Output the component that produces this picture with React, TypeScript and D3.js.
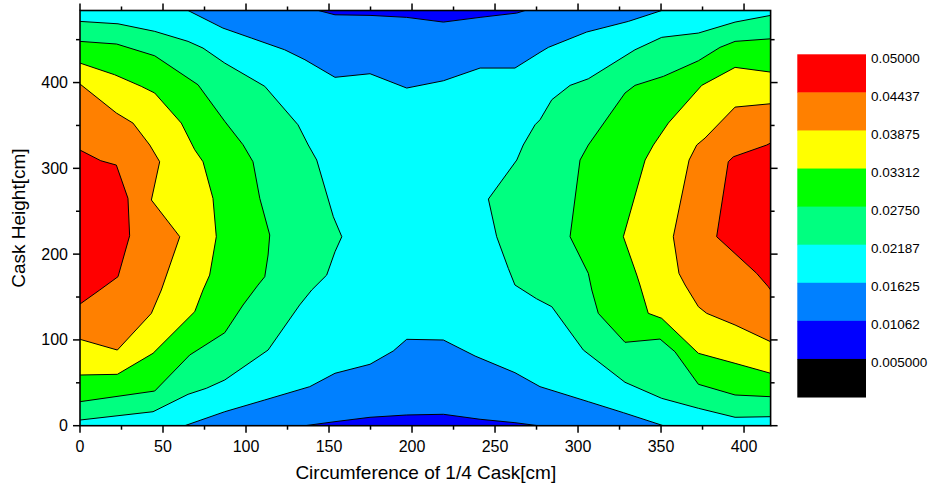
import React from 'react';
import * as d3 from 'd3';

// ---- axis domain & ticks ----
const X_MAX = 416;
const Y_MAX = 484;
const xMajorTicks = [0, 50, 100, 150, 200, 250, 300, 350, 400];
const xMinorTicks = [25, 75, 125, 175, 225, 275, 325, 375];
const yMajorTicks = [0, 100, 200, 300, 400];
const yMinorTicks = [50, 150, 250, 350, 450];

// ---- contour levels (legend) ----
const levelValues = [0.005, 0.010625, 0.01625, 0.021875, 0.0275, 0.033125, 0.03875, 0.044375, 0.05];
const levelLabels = ['0.05000', '0.04437', '0.03875', '0.03312', '0.02750', '0.02187', '0.01625', '0.01062', '0.005000'];
const levelColors = ['#000000', '#0000FF', '#0080FF', '#00FFFF', '#00FF80', '#00FF00', '#FFFF00', '#FF8000', '#FF0000'];

// ---- isolines: [circumference cm, height cm] ----
const leftIso021875 = [[0,471.3],[22.9,468.5],[45.0,459.7],[65.1,448.0],[74.1,440.2],[87.2,422.7],[111.3,395.6],[131.3,350.8],[137.5,327.2],[142.6,309.7],[152.6,243.6],[157.7,220.3],[153.6,202.8],[148.6,175.6],[139.6,158.2],[132.3,140.7],[113.3,88.2],[87.2,53.3],[76.1,43.6],[65.1,36.6],[44.0,16.3],[0,6.6]];
const leftIso0275 = [[0,448.0],[22.1,444.9],[45.0,431.2],[71.1,397.4],[87.2,354.8],[98.2,327.5],[104.2,307.7],[108.3,265.0],[114.3,222.3],[113.3,199.0],[111.3,173.7],[107.2,163.9],[98.2,140.7],[87.2,108.4],[66.1,82.4],[45.0,40.4],[0,28.0]];
const leftIso033125 = [[0,422.7],[20.9,409.1],[36.9,395.6],[45.0,387.8],[61.0,352.8],[69.1,321.7],[74.1,307.7],[80.1,265.0],[82.1,220.3],[78.1,175.6],[74.1,158.2],[69.1,132.9],[44.0,84.4],[22.5,59.9],[0,59.1]];
const leftIso03875 = [[0,398.3],[21.9,364.5],[31.9,352.8],[42.0,327.2],[48.0,307.7],[43.0,263.1],[60.1,220.3],[49.0,158.2],[43.0,131.0],[22.5,88.2],[0,100.7]];
const leftIso044375 = [[0,321.3],[12.5,308.9],[21.9,303.8],[28.9,265.0],[29.9,221.4],[22.9,173.7],[11.9,158.2],[0,141.8]];

const rightIso021875 = [[416,478.3],[394.6,470.5],[372.5,457.7],[350.4,452.7],[334.3,438.2],[306.2,404.4],[295.2,396.7],[284.2,380.0],[277.1,356.6],[274.1,350.8],[267.0,327.2],[263.1,309.7],[246.0,264.2],[251.0,220.3],[258.0,183.4],[262.0,164.0],[275.0,148.0],[284.2,138.7],[303.2,88.2],[328.3,50.6],[350.4,31.9],[372.5,20.3],[394.6,9.8],[416,10.5]];
const rightIso0275 = [[416,451.0],[394.6,448.0],[385.5,441.0],[372.5,425.4],[351.4,407.2],[334.3,396.7],[328.3,387.8],[306.2,327.2],[301.2,309.7],[295.2,220.3],[306.2,177.6],[308.3,158.2],[312.2,131.0],[328.3,97.2],[349.4,101.0],[358.4,86.2],[372.5,48.3],[394.6,35.8],[416,33.8]];
const rightIso033125 = [[416,412.2],[394.6,417.7],[374.5,396.7],[354.4,352.8],[345.4,327.2],[340.4,309.7],[327.3,220.3],[335.4,175.6],[337.3,164.0],[342.3,131.0],[350.4,125.2],[372.5,84.4],[394.6,72.7],[416,61.1]];
const rightIso03875 = [[416,375.3],[394.6,371.4],[376.5,335.3],[371.5,327.2],[366.9,309.7],[357.4,220.3],[360.8,177.6],[364.5,164.0],[372.5,138.7],[377.5,131.0],[394.6,117.4],[416,97.9]];
const rightIso044375 = [[416,329.5],[413.7,327.2],[393.6,313.5],[390.5,307.7],[383.5,220.3],[407.6,177.6],[414.6,162.0],[416,158.2]];

const topIso01625 = [[65.1,484],[86.1,463.5],[103.2,451.9],[123.3,438.2],[135.5,426.6],[153.6,406.1],[174.7,410.3],[196.8,393.6],[218.9,402.1],[241.0,416.9],[262.0,416.9],[277.1,435.2],[282.1,441.0],[305.2,458.9],[330.3,471.3],[350.4,484]];
const topIso010625 = [[143.6,484],[153.6,479.0],[174.7,478.3],[196.8,476.0],[218.9,470.5],[241.0,476.0],[263.1,481.0],[268.1,484]];
const bottomIso01625 = [[63.1,0],[87.2,16.3],[111.3,30.0],[138.4,45.5],[153.6,61.1],[174.7,71.6],[188.7,87.1],[196.8,100.7],[218.9,99.9],[238.0,81.2],[262.0,61.8],[277.1,45.5],[306.2,28.0],[327.3,15.2],[351.4,0]];
const bottomIso010625 = [[135.5,0],[153.6,4.7],[174.7,9.8],[196.8,12.5],[218.9,13.3],[241.0,7.5],[262.0,3.5],[276.1,0]];

// isolines with their level; "high" = region enclosed holds larger values
const isolines = [
  { level: 0.021875, high: true, pts: leftIso021875 },
  { level: 0.0275, high: true, pts: leftIso0275 },
  { level: 0.033125, high: true, pts: leftIso033125 },
  { level: 0.03875, high: true, pts: leftIso03875 },
  { level: 0.044375, high: true, pts: leftIso044375 },
  { level: 0.021875, high: true, pts: rightIso021875 },
  { level: 0.0275, high: true, pts: rightIso0275 },
  { level: 0.033125, high: true, pts: rightIso033125 },
  { level: 0.03875, high: true, pts: rightIso03875 },
  { level: 0.044375, high: true, pts: rightIso044375 },
  { level: 0.01625, high: false, pts: topIso01625 },
  { level: 0.010625, high: false, pts: topIso010625 },
  { level: 0.01625, high: false, pts: bottomIso01625 },
  { level: 0.010625, high: false, pts: bottomIso010625 },
];
const backgroundValue = 0.019;

// ---- layout ----
const W = 934;
const H = 491;
const PL = 80, PR = 770.6, PT = 10.5, PB = 425.7;
const FONT = '"Liberation Sans", Arial, Helvetica, sans-serif';

export default function App() {
  const x = d3.scaleLinear().domain([0, X_MAX]).range([PL, PR]);
  const y = d3.scaleLinear().domain([0, Y_MAX]).range([PB, PT]);
  const color = d3.scaleThreshold<number, string>()
    .domain(levelValues.slice(0, 8))
    .range(levelColors);
  const line = d3.line<number[]>().x(d => x(d[0])).y(d => y(d[1]));

  const legendTop = 54.3;
  const boxH = 38.08;
  const legendX0 = 797.3, legendX1 = 866;
  const legendColors = levelColors.slice().reverse();

  return (
    <svg width={W} height={H} style={{ position: 'absolute', left: 0, top: 0, background: '#fff' }} fontFamily={FONT}>
      <defs>
        <clipPath id="plotClip">
          <rect x={PL} y={PT} width={PR - PL} height={PB - PT} />
        </clipPath>
      </defs>
      <g clipPath="url(#plotClip)">
        <rect x={PL} y={PT} width={PR - PL} height={PB - PT} fill={color(backgroundValue)} />
        {isolines.map((iso, i) => (
          <path key={'f' + i} d={line(iso.pts) + 'Z'} fill={color(iso.high ? iso.level : iso.level - 1e-6)} stroke="none" />
        ))}
        {isolines.map((iso, i) => (
          <path key={'l' + i} d={line(iso.pts) || ''} fill="none" stroke="#000" strokeWidth={1} strokeLinejoin="round" />
        ))}
      </g>
      {/* frame */}
      <rect x={PL} y={PT} width={PR - PL} height={PB - PT} fill="none" stroke="#000" strokeWidth={1.6} />
      {/* x ticks bottom & top */}
      {xMajorTicks.map(t => (
        <g key={'xt' + t}>
          <line x1={x(t)} x2={x(t)} y1={PB} y2={PB + 7} stroke="#000" strokeWidth={1.5} />
          <line x1={x(t)} x2={x(t)} y1={PT} y2={PT - 7} stroke="#000" strokeWidth={1.5} />
          <text x={x(t)} y={451.5} fontSize={16} textAnchor="middle">{t}</text>
        </g>
      ))}
      {xMinorTicks.map(t => (
        <g key={'xm' + t}>
          <line x1={x(t)} x2={x(t)} y1={PB} y2={PB + 4} stroke="#000" strokeWidth={1.5} />
          <line x1={x(t)} x2={x(t)} y1={PT} y2={PT - 4} stroke="#000" strokeWidth={1.5} />
        </g>
      ))}
      {yMajorTicks.map(t => (
        <g key={'yt' + t}>
          <line x1={PL} x2={PL - 7} y1={y(t)} y2={y(t)} stroke="#000" strokeWidth={1.5} />
          <line x1={PR} x2={PR + 7} y1={y(t)} y2={y(t)} stroke="#000" strokeWidth={1.5} />
          <text x={68} y={y(t)} fontSize={16} textAnchor="end" dominantBaseline="central">{t}</text>
        </g>
      ))}
      {yMinorTicks.map(t => (
        <g key={'ym' + t}>
          <line x1={PL} x2={PL - 4} y1={y(t)} y2={y(t)} stroke="#000" strokeWidth={1.5} />
          <line x1={PR} x2={PR + 4} y1={y(t)} y2={y(t)} stroke="#000" strokeWidth={1.5} />
        </g>
      ))}
      {/* axis titles */}
      <text x={(PL + PR) / 2 + 0.5} y={479} fontSize={19} textAnchor="middle">Circumference of 1/4 Cask[cm]</text>
      <text transform={`translate(25,${(PT + PB) / 2}) rotate(-90)`} fontSize={19} textAnchor="middle">Cask Height[cm]</text>
      {/* legend */}
      {legendColors.map((c, i) => (
        <g key={'lg' + i}>
          <rect x={legendX0} y={legendTop + i * boxH} width={legendX1 - legendX0} height={boxH + 0.5} fill={c} />
          <text x={871} y={legendTop + i * boxH + 4} fontSize={13.5} dominantBaseline="central">{levelLabels[i]}</text>
        </g>
      ))}
    </svg>
  );
}
